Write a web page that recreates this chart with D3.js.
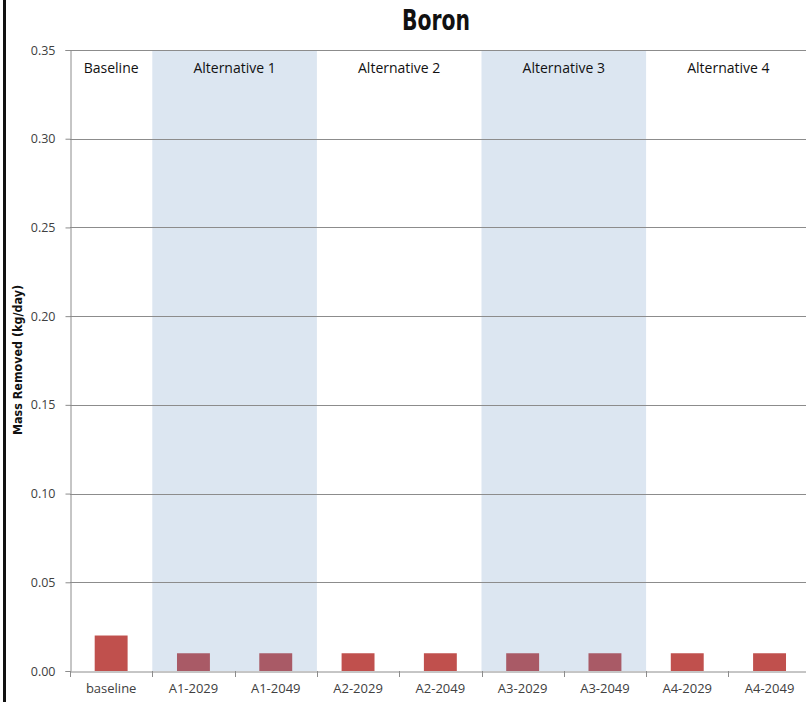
<!DOCTYPE html>
<html><head><meta charset="utf-8">
<script src="https://cdn.jsdelivr.net/npm/d3@7"></script>
<style>body{margin:0;background:#fff;} svg{display:block;}</style>
</head><body>
<svg id="c" width="806" height="702"></svg>
<script>
const categories = ["baseline","A1-2029","A1-2049","A2-2029","A2-2049","A3-2029","A3-2049","A4-2029","A4-2049"];
const values = [0.02,0.01,0.01,0.01,0.01,0.01,0.01,0.01,0.01];
const groupLabels = ["Baseline","Alternative 1","Alternative 2","Alternative 3","Alternative 4"];
const groupFirst = ["baseline","A1-2029","A2-2029","A3-2029","A4-2029"];
const groupLast = ["baseline","A1-2049","A2-2049","A3-2049","A4-2049"];
const groupShaded = [false,true,false,true,false];
const yTicks = [0,0.05,0.10,0.15,0.20,0.25,0.30,0.35];

(function(){
const svg = d3.select("#c");
const mLeft = 70, mTop = 50, mBottom = 671, step = 82.3;
const x = d3.scaleBand().domain(categories).range([mLeft, mLeft + step*categories.length]).paddingInner(0.6).paddingOuter(0.3);
const xb = d3.scaleBand().domain(categories).range([mLeft, mLeft + step*categories.length]);
const y = d3.scaleLinear().domain([0,0.35]).range([mBottom, mTop]);

// left page edge line (scan artifact)
svg.append("rect").attr("x",3).attr("y",0).attr("width",3).attr("height",702).attr("fill","#111");

// shaded regions
groupLabels.forEach((g,i)=>{
  const x0 = xb(groupFirst[i]), x1 = xb(groupLast[i]) + xb.bandwidth();
  if (groupShaded[i]) svg.append("rect").attr("x",x0).attr("y",mTop).attr("width",x1-x0).attr("height",mBottom-mTop).attr("fill","#DCE6F1");
});

// gridlines
svg.append("g").selectAll("line").data(yTicks.filter(d=>d>0)).join("line")
  .attr("x1",mLeft).attr("x2",806).attr("y1",d=>Math.round(y(d))+0.5).attr("y2",d=>Math.round(y(d))+0.5)
  .attr("stroke","#8C8C8C").attr("stroke-width",1);

// bars
svg.append("g").selectAll("rect").data(categories).join("rect")
  .attr("x",d=>x(d)).attr("width",x.bandwidth())
  .attr("y",(d,i)=>y(values[i])).attr("height",(d,i)=>mBottom-y(values[i]))
  .attr("fill",(d,i)=>{
    const gi = groupLabels.findIndex((g,k)=>i>=categories.indexOf(groupFirst[k]) && i<=categories.indexOf(groupLast[k]));
    return groupShaded[gi] ? "#A95A66" : "#C0504D";
  });

// group labels
groupLabels.forEach((g,i)=>{
  const x0 = xb(groupFirst[i]), x1 = xb(groupLast[i]) + xb.bandwidth();
  svg.append("text").attr("x",(x0+x1)/2).attr("y",73).attr("text-anchor","middle")
    .attr("font-family","Open Sans, sans-serif").attr("font-size",14).attr("fill","#111").text(g);
});

// y axis
const yAxis = d3.axisLeft(y).tickValues(yTicks).tickFormat(d3.format(".2f")).tickSize(5).tickPadding(10);
const gy = svg.append("g").attr("transform",`translate(${mLeft+0.5},0)`).call(yAxis);
gy.select(".domain").attr("stroke","#8C8C8C");
gy.selectAll(".tick line").attr("stroke","#8C8C8C");
gy.selectAll("text").attr("font-family","Open Sans, sans-serif").attr("font-size",12.5).attr("fill","#404040");

// x axis
const xAxis = d3.axisBottom(xb).tickSize(0).tickPadding(12);
const gx = svg.append("g").attr("transform",`translate(0,${mBottom+0.5})`).call(xAxis);
gx.select(".domain").attr("stroke","#8C8C8C");
gx.selectAll("text").attr("font-family","Open Sans, sans-serif").attr("font-size",13).attr("fill","#404040");
svg.append("g").selectAll("line").data(categories).join("line")
  .attr("x1",d=>Math.round(xb(d))+0.5).attr("x2",d=>Math.round(xb(d))+0.5)
  .attr("y1",mBottom).attr("y2",mBottom+6).attr("stroke","#8C8C8C");

// title
svg.append("text").attr("x",436).attr("y",30).attr("text-anchor","middle")
  .attr("font-family","DejaVu Sans, sans-serif").attr("font-weight","bold")
  .attr("font-size",29).attr("textLength",68).attr("lengthAdjust","spacingAndGlyphs")
  .attr("fill","#111").text("Boron");

// y label
svg.append("text").attr("transform","translate(22,360) rotate(-90)").attr("text-anchor","middle")
  .attr("font-family","DejaVu Sans, sans-serif").attr("font-weight","bold")
  .attr("font-size",12).attr("textLength",150).attr("lengthAdjust","spacingAndGlyphs")
  .attr("fill","#111").text("Mass Removed (kg/day)");
})();
</script>
</body></html>
